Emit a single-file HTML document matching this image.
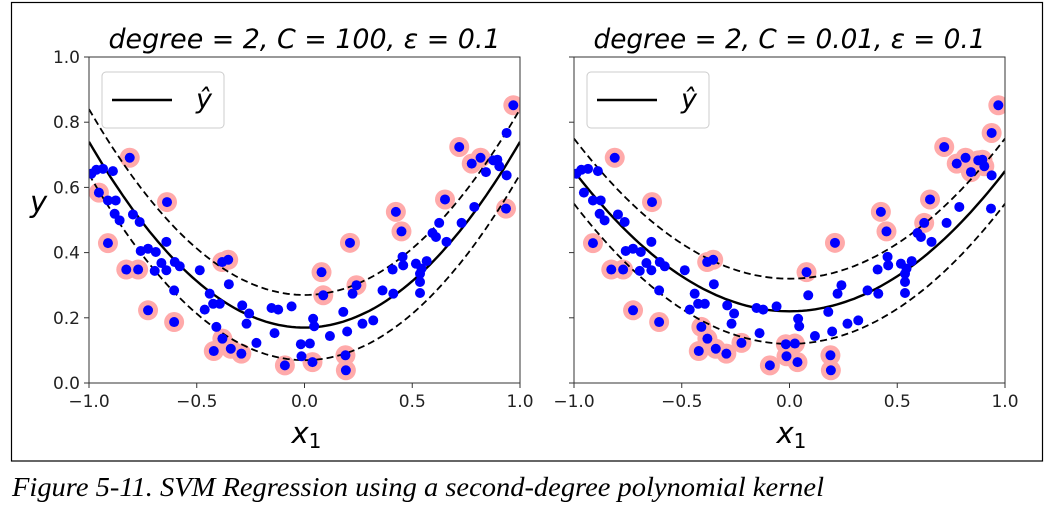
<!DOCTYPE html>
<html><head><meta charset="utf-8"><style>
body{margin:0;background:#fff;width:1053px;height:511px;overflow:hidden}
svg{display:block}
</style></head><body>
<svg id="fig" width="1053" height="511" xmlns="http://www.w3.org/2000/svg" font-family="DejaVu Sans, Liberation Sans, sans-serif">
<rect x="11.5" y="2.5" width="1031" height="458.5" fill="none" stroke="#000" stroke-width="1.2"/>
<text x="12" y="496" font-family="Liberation Serif, serif" font-style="italic" font-size="27" textLength="812" lengthAdjust="spacingAndGlyphs" fill="#000">Figure 5-11. SVM Regression using a second-degree polynomial kernel</text>
</svg>
<script>
const xs=[-0.989,-0.966,-0.935,-0.889,-0.954,-0.912,-0.876,-0.881,-0.858,-0.912,-0.811,-0.827,-0.772,-0.796,-0.765,-0.760,-0.726,-0.690,-0.695,-0.664,-0.641,-0.641,-0.638,-0.602,-0.579,-0.605,-0.726,-0.605,-0.486,-0.440,-0.463,-0.424,-0.393,-0.409,-0.381,-0.421,-0.342,-0.293,-0.382,-0.354,-0.351,-0.289,-0.257,-0.269,-0.223,-0.153,-0.122,-0.139,-0.060,-0.091,-0.017,-0.014,0.025,0.040,0.045,0.037,0.079,0.087,0.118,0.180,0.198,0.190,0.192,0.211,0.223,0.241,0.269,0.319,0.362,0.409,0.412,0.424,0.450,0.455,0.458,0.517,0.536,0.536,0.536,0.543,0.567,0.594,0.610,0.625,0.659,0.652,0.729,0.788,0.718,0.776,0.817,0.842,0.876,0.895,0.904,0.938,0.938,0.935,0.969];
const ys=[0.642,0.654,0.657,0.650,0.584,0.560,0.560,0.519,0.499,0.429,0.691,0.348,0.348,0.517,0.494,0.405,0.412,0.402,0.344,0.368,0.346,0.433,0.555,0.371,0.358,0.284,0.223,0.187,0.346,0.274,0.225,0.243,0.243,0.172,0.136,0.098,0.105,0.090,0.371,0.378,0.303,0.238,0.213,0.182,0.123,0.230,0.225,0.153,0.235,0.054,0.119,0.082,0.121,0.197,0.174,0.064,0.340,0.269,0.144,0.218,0.158,0.085,0.039,0.430,0.274,0.300,0.182,0.192,0.284,0.348,0.274,0.525,0.465,0.387,0.361,0.366,0.335,0.310,0.276,0.351,0.374,0.460,0.448,0.491,0.433,0.563,0.491,0.540,0.724,0.673,0.691,0.647,0.683,0.685,0.665,0.637,0.767,0.535,0.852];
const supportLeft=[4,9,10,11,12,22,26,27,34,35,36,37,38,39,49,55,56,57,61,62,63,65,71,72,85,88,89,90,97,98];
const supportRight=[9,10,11,12,22,26,27,33,34,35,36,37,38,39,44,49,50,51,52,55,56,61,62,63,71,72,83,85,88,89,90,91,92,93,94,96,98];
const titles=["degree = 2, C = 100, ε = 0.1","degree = 2, C = 0.01, ε = 0.1"];
const coefA=[0.57,0.43];
const coefC=[0.17,0.22];
const epsilon=0.1;
const xTicks=[-1.0,-0.5,0.0,0.5,1.0];
const xTickLabels=["−1.0","−0.5","0.0","0.5","1.0"];
const yTicks=[0,0.2,0.4,0.6,0.8,1.0];
const yTickLabels=["0.0","0.2","0.4","0.6","0.8","1.0"];
const NS="http://www.w3.org/2000/svg";
const svg=document.getElementById('fig');
const supports=[supportLeft,supportRight];
function mk(tag,attrs,parent){const e=document.createElementNS(NS,tag);for(const k in attrs)e.setAttribute(k,attrs[k]);(parent||svg).appendChild(e);return e;}
const panels=[{x0:89,x1:520},{x0:574,x1:1005}];
const Y0=383,Y1=57;
panels.forEach((p,pi)=>{
  const g=mk('g',{});
  
  
  const sx=v=>p.x0+(v+1)/2*(p.x1-p.x0);
  const sy=v=>Y0-v*(Y0-Y1);
  const f=x=>coefA[pi]*x*x+coefC[pi];
  const clip=mk('clipPath',{id:'clip'+pi},g);
  mk('rect',{x:p.x0,y:Y1,width:p.x1-p.x0,height:Y0-Y1},clip);
  const pg=mk('g',{'clip-path':'url(#clip'+pi+')'},g);
  supports[pi].forEach(i=>{
    const c=mk('circle',{cx:sx(xs[i]),cy:sy(ys[i]),r:10,fill:'#ffaaaa'},pg);
    
    
  });
  const curve=(off,dash,name)=>{let d='';for(let k=0;k<=100;k++){const x=-1+k/50;d+=(k?'L':'M')+sx(x).toFixed(1)+','+sy(f(x)+off).toFixed(1);}
    const e=mk('path',{d:d,fill:'none',stroke:'#000','stroke-width':dash?1.8:2.4,'stroke-dasharray':dash?'7,4':'none'},pg);
    
    };
  curve(0,false,'prediction-line');curve(epsilon,true,'upper-margin');curve(-epsilon,true,'lower-margin');
  xs.forEach((x,i)=>{
    const c=mk('circle',{cx:sx(x),cy:sy(ys[i]),r:5,fill:'#0000ff'},pg);
    
    
  });
  const fr=mk('rect',{x:p.x0,y:Y1,width:p.x1-p.x0,height:Y0-Y1,fill:'none',stroke:'#333','stroke-width':1},g);
  
  
  xTicks.forEach((t,i)=>{
    mk('line',{x1:sx(t),x2:sx(t),y1:Y0,y2:Y0+5,stroke:'#333'},g);
    const tx=mk('text',{x:sx(t),y:Y0+24,'text-anchor':'middle','font-size':17,fill:'#222'},g);
    tx.textContent=xTickLabels[i];
    
    
  });
  yTicks.forEach((t,i)=>{
    mk('line',{x1:p.x0-5,x2:p.x0,y1:sy(t),y2:sy(t),stroke:'#333'},g);
    if(pi===0){const tx=mk('text',{x:p.x0-9,y:sy(t)+6,'text-anchor':'end','font-size':17,fill:'#222'},g);
      tx.textContent=yTickLabels[i];
      
      }
  });
  const tt=mk('text',{x:(p.x0+p.x1)/2,y:48,'text-anchor':'middle','font-size':27,'font-style':'italic',fill:'#000',textLength:392,lengthAdjust:'spacingAndGlyphs'},g);
  tt.textContent=titles[pi];
  
  
  const xl=mk('text',{x:(p.x0+p.x1)/2-13,y:443,'font-size':29,'font-style':'italic',fill:'#000'},g);
  xl.innerHTML='x<tspan font-size="20" font-style="normal" dy="5">1</tspan>';
  
  
  if(pi===0){const yl=mk('text',{x:30,y:212,'font-size':29,'font-style':'italic',fill:'#000'},g);
    yl.textContent='y';
    
    }
  const lg=mk('g',{},g);
  
  
  mk('rect',{x:p.x0+13,y:72,width:122,height:56,rx:4,fill:'#fff','fill-opacity':0.8,stroke:'#ccc'},lg);
  mk('line',{x1:p.x0+23,x2:p.x0+83,y1:100,y2:100,stroke:'#000','stroke-width':2.4},lg);
  const lt=mk('text',{x:p.x0+107,y:108,'font-size':27,'font-style':'italic',fill:'#000'},lg);
  lt.textContent='ŷ';
});
</script>
</body></html>
